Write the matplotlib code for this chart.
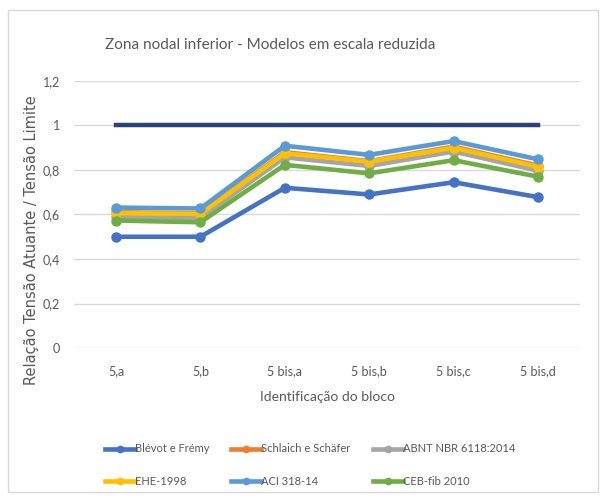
import matplotlib.pyplot as plt
from matplotlib.patches import Rectangle

plt.rcParams['font.family'] = ['Lato', 'DejaVu Sans']

# Dados
blocos = ['5,a', '5,b', '5 bis,a', '5 bis,b', '5 bis,c', '5 bis,d']
blevot = [0.50, 0.50, 0.72, 0.69, 0.745, 0.678]
schlaich = [0.61, 0.605, 0.88, 0.84, 0.905, 0.82]
abnt = [0.588, 0.585, 0.857, 0.818, 0.883, 0.797]
ehe = [0.606, 0.603, 0.875, 0.838, 0.90, 0.815]
aci = [0.631, 0.627, 0.909, 0.868, 0.930, 0.848]
ceb = [0.573, 0.565, 0.823, 0.785, 0.844, 0.770]
limite = [1, 1, 1, 1, 1, 1]

series = [
    ('Blévot e Frémy', blevot, '#4472C4'),
    ('Schlaich e Schäfer', schlaich, '#ED7D31'),
    ('ABNT NBR 6118:2014', abnt, '#A5A5A5'),
    ('EHE-1998', ehe, '#FFC000'),
    ('ACI 318-14', aci, '#5B9BD5'),
    ('CEB-fib 2010', ceb, '#70AD47'),
]

fig = plt.figure(figsize=(6.01, 4.98), dpi=100)
ax = fig.add_axes([73.8 / 601, 1 - 348 / 498, (580.2 - 73.8) / 601, (348 - 81) / 498])

# moldura do gráfico
fig.patches.append(Rectangle((8 / 601, 1 - 492 / 498), 590 / 601, 482 / 498,
                             transform=fig.transFigure, fill=False,
                             edgecolor='#D9D9D9', linewidth=1))

x = range(len(blocos))
ax.plot(x, limite, color='#264478', linewidth=3.2, zorder=2)
linhas = []
for nome, vals, cor in series:
    l, = ax.plot(x, vals, color=cor, linewidth=3.3, marker='o', markersize=6.5,
                 label=nome, zorder=3)
    linhas.append(l)

ax.set_xlim(-0.5, len(blocos) - 0.5)
ax.set_ylim(0, 1.2)
ax.set_yticks([0, 0.2, 0.4, 0.6, 0.8, 1.0, 1.2])
ax.set_yticklabels(['0', '0,2', '0,4', '0,6', '0,8', '1', '1,2'])
ax.set_xticks(list(x))
ax.set_xticklabels(blocos)
ax.tick_params(length=0, labelsize=9, colors='#595959', pad=12)
ax.tick_params(axis='y', pad=10)
for s in ax.spines.values():
    s.set_visible(False)
ax.grid(axis='y', color='#D9D9D9', linewidth=1)
ax.set_axisbelow(True)

ax.set_xlabel('Identificação do bloco', fontsize=10, color='#595959', labelpad=10)
fig.text(32 / 601, 1 - 240 / 498, 'Relação Tensão Atuante / Tensão Limite',
         rotation=90, ha='center', va='center', fontsize=10.5,
         family='DejaVu Sans', color='#595959')
fig.text(270 / 601, 1 - 45 / 498, 'Zona nodal inferior - Modelos em escala reduzida',
         ha='center', va='center', fontsize=11, color='#595959')

# legenda preenchida por linhas (ordem do Excel)
ordem = [0, 3, 1, 4, 2, 5]
fig.legend([linhas[i] for i in ordem], [series[i][0] for i in ordem],
           loc='center', bbox_to_anchor=(310 / 601, 1 - 465 / 498), ncol=3,
           frameon=False, fontsize=8, handlelength=2.7, handletextpad=0.0,
           columnspacing=2.0, labelspacing=1.9, labelcolor='#595959',
           markerscale=0.7)

fig.savefig('out.png', dpi=100)
